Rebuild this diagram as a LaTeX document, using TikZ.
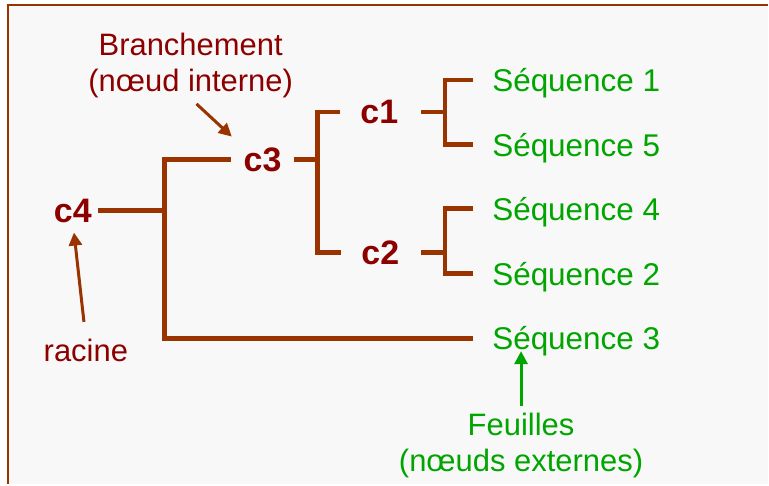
\documentclass[tikz,border=0pt]{standalone}
\usepackage{fontspec}
\setmainfont{Liberation Sans}
\usetikzlibrary{arrows.meta}

\definecolor{darkred}{RGB}{140,0,0}
\definecolor{brown}{RGB}{153,51,0}
\definecolor{leafgreen}{RGB}{0,165,0}
\definecolor{panel}{RGB}{248,248,248}

\begin{document}
\begin{tikzpicture}[x=1pt,y=-1pt,
    inner/.style={inner sep=0pt,text=darkred,font=\fontsize{34}{38}\selectfont\bfseries},
    leaf/.style={inner sep=0pt,text depth=0pt,anchor=west,text=leafgreen,font=\fontsize{31.5}{36}\selectfont},
    note/.style={inner sep=0pt,align=center,font=\fontsize{31}{36}\selectfont},
    branch/.style={draw=brown,line width=4.5pt},
    pointer/.style={line width=3pt,-{Triangle[length=13pt,width=13pt]}}]
    % background and frame
    \fill[white] (0,0) rectangle (769,485);
    \fill[panel] (8,5) rectangle (769,485);
    \draw[brown,line width=2.8pt] (8,485) -- (8,5) -- (769,5);
    \useasboundingbox (0,0) rectangle (769,485);

    % inner nodes
    \node[inner] (c4) at (73,211) {c4};
    \node[inner] (c3) at (263,160) {c3};
    \node[inner] (c1) at (380,112) {c1};
    \node[inner] (c2) at (381,253) {c2};

    % leaves
    \node[leaf] (s1) at (493,80) {Séquence 1};
    \node[leaf] (s5) at (493,145) {Séquence 5};
    \node[leaf] (s4) at (493,209) {Séquence 4};
    \node[leaf] (s2) at (493,274) {Séquence 2};
    \node[leaf] (s3) at (493,339) {Séquence 3};

    % junctions
    \coordinate (k4) at (165,211);
    \coordinate (k3) at (318,160);
    \coordinate (k1) at (446,112);
    \coordinate (k2) at (446,253);

    % tree
    \draw[branch,shorten <=6pt] (c4.east) -- (k4);
    \draw[branch] ([xshift=-12pt]c3.west) -| (k4) |- ([xshift=-19pt]s3.west);
    \draw[branch,shorten <=12pt] (c3.east) -- (k3);
    \draw[branch] ([xshift=-20pt]c1.west) -| (k3) |- ([xshift=-20pt]c2.west);
    \draw[branch,shorten <=23pt] (c1.east) -- (k1);
    \draw[branch] ([xshift=-19pt]s1.west) -| (k1) |- ([xshift=-19pt]s5.west);
    \draw[branch,shorten <=22pt] (c2.east) -- (k2);
    \draw[branch] ([xshift=-19pt]s4.west) -| (k2) |- ([xshift=-19pt]s2.west);

    % notes
    \node[note,text=darkred] (branchement) at (191,66) {Branchement\\(nœud interne)};
    \node[note,text=darkred,anchor=base] (racine) at (86,362) {racine};
    \node[note,text=leafgreen] (feuilles) at (522,446) {Feuilles\\(nœuds externes)};

    \draw[pointer,brown,shorten <=8pt,shorten >=16pt] (branchement.south) -- (c3.north west);
    \draw[pointer,brown,shorten <=17pt,shorten >=10pt] (racine.north) -- (c4.south);
    \draw[pointer,leafgreen,shorten <=7pt,shorten >=1pt] (feuilles.north) -- (feuilles.north |- s3.south);
\end{tikzpicture}
\end{document}
